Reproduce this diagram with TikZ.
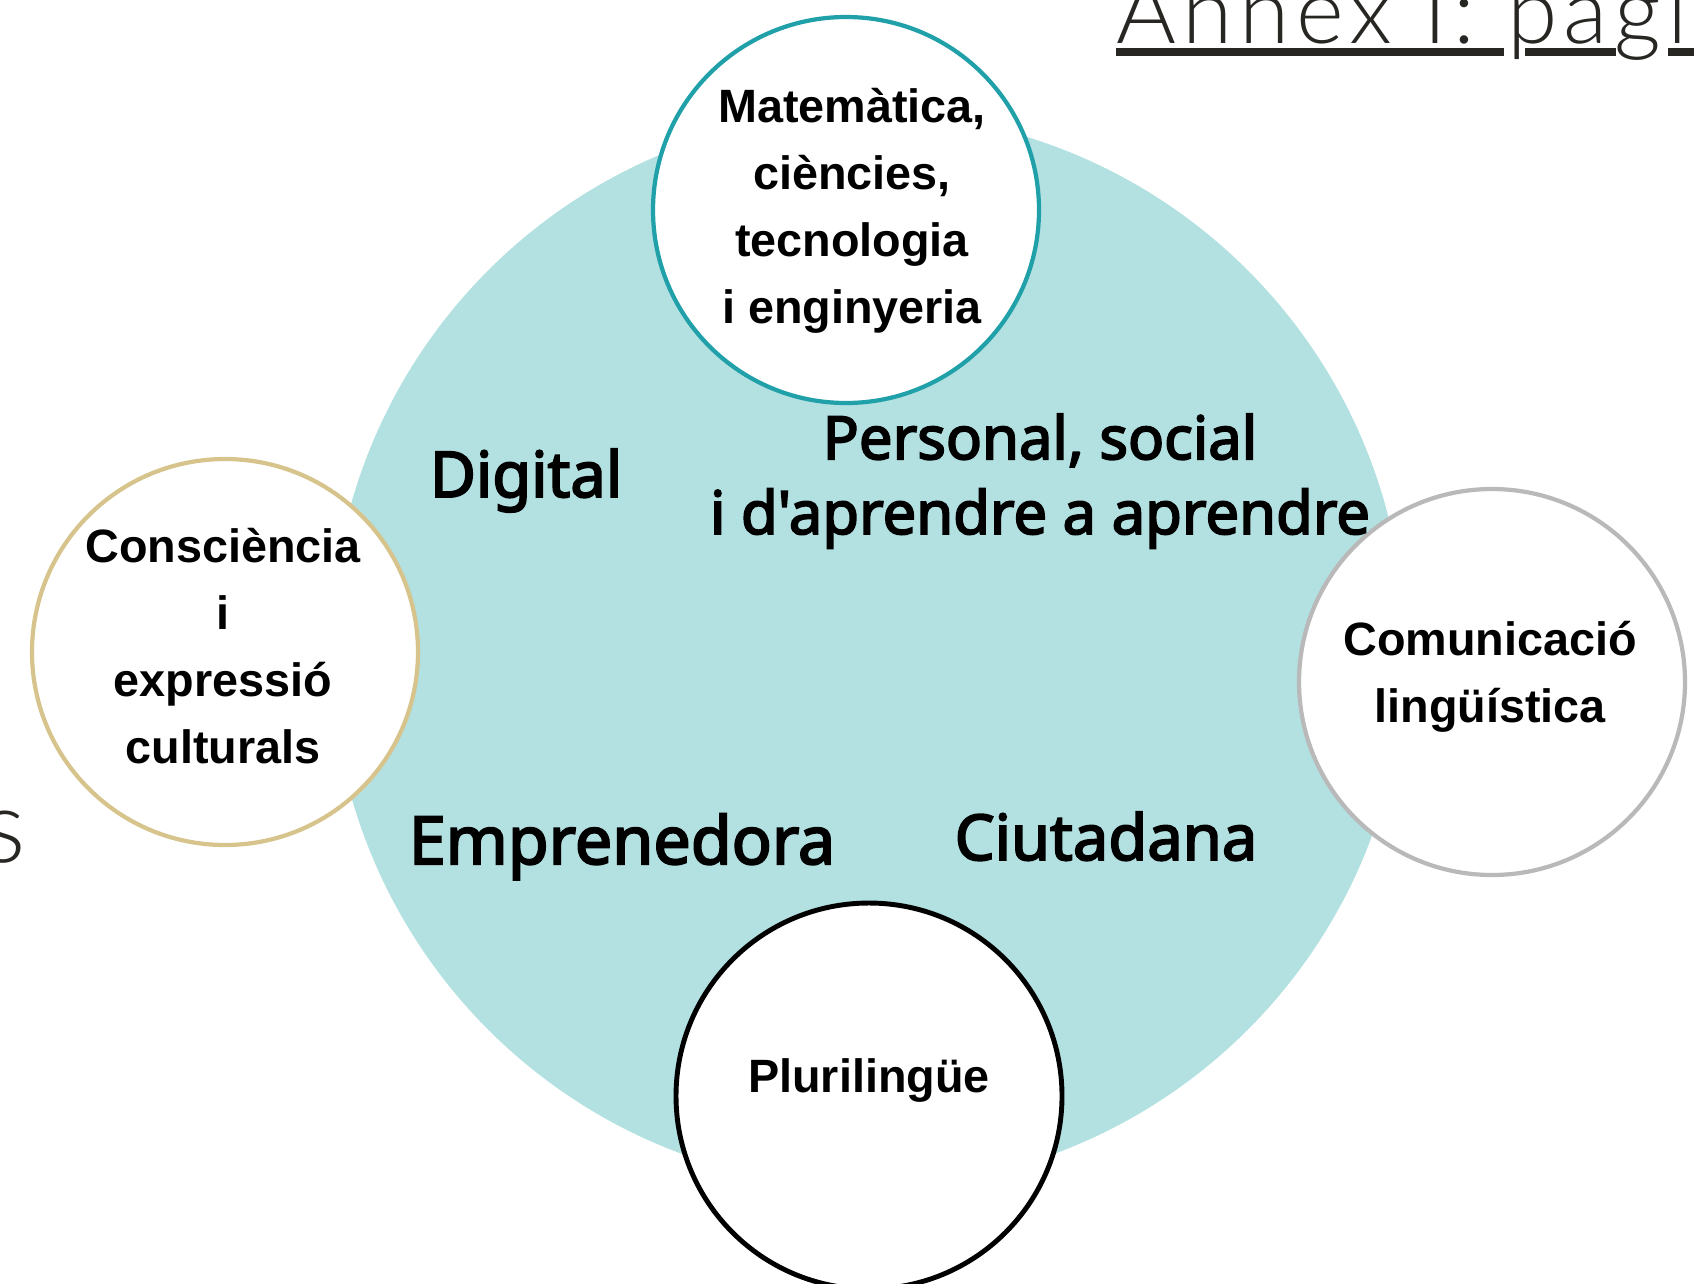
\documentclass[tikz,border=0pt]{standalone}
\usepackage{fontspec}
\usepackage{tikz}
\setmainfont{Liberation Sans}
\newfontfamily\keyfont{Noto Sans}[FakeBold=3]
\newfontfamily\annexfont{Lato}[UprightFont={* Light},LetterSpace=7]

\definecolor{coreteal}{RGB}{179,224,225}
\definecolor{mathteal}{RGB}{32,160,168}
\definecolor{artgold}{RGB}{214,196,140}
\definecolor{langgray}{RGB}{185,185,185}
\definecolor{annexink}{RGB}{40,38,35}

\begin{document}
\begin{tikzpicture}[x=0.1mm,y=-0.1mm,
  bubble/.style={circle,fill=white,line width=1.2pt,minimum size=38.6mm,inner sep=0pt},
  bubtext/.style={font=\bfseries\fontsize{13.3}{19}\selectfont,align=center,inner sep=0pt,anchor=base},
  keytext/.style={font=\keyfont\fontsize{18}{21.3}\selectfont,align=center,inner sep=0pt,anchor=base}]
\useasboundingbox (0,0) rectangle (1694,1283);
\clip (0,0) rectangle (1694,1283);

\node [circle,fill=coreteal,minimum size=107.4mm] (core) at (868,650) {};

\node [bubble,draw=mathteal] (stem) at (846,210) {};
\node [bubble,draw=artgold] (arts) at (225,652) {};
\node [bubble,draw=langgray] (lang) at (1492,682) {};
\node [bubble,draw=black,line width=1.4pt] (pluri) at (869,1096) {};

% base of a multi-line node = its last line
\node [bubtext] (stemtxt) at (852,323) {Matemàtica,\\ciències,\\tecnologia\\i enginyeria};
\node [bubtext] (artstxt) at (223,763) {Consciència\\i\\expressió\\culturals};
\node [bubtext] (langtxt) at (1490,722) {Comunicació\\lingüística};
\node [bubtext] (pluritxt) at (869,1092) {Plurilingüe};

\node [keytext] (digital) at (526,497) {Digital};
\node [keytext,font=\keyfont\fontsize{17}{21.3}\selectfont] (personal) at (1040,534) {Personal, social\\i d'aprendre a aprendre};
\node [keytext,font=\keyfont\fontsize{18.9}{21.3}\selectfont] (empren) at (622,864) {Emprenedora};
\node [keytext] (ciutad) at (1106,860) {Ciutadana};

% title cut at the page edge
\node [font=\annexfont\fontsize{26}{30}\selectfont,text=annexink,anchor=base west,inner sep=0pt] (annex) at (1116,43) {Annex I: pagi};
\coordinate (ul1) at (1116,52);
\draw [annexink,line width=2.5pt] (ul1) -- (1504,52);
\draw [annexink,line width=2.5pt] (1525,52) -- (1616,52);
\draw [annexink,line width=2.5pt] (1668,52) -- (1694,52);

\node [font=\annexfont\fontsize{29}{32}\selectfont,text=annexink,anchor=base east,inner sep=0pt] (cutword) at (27,862) {s};

\end{tikzpicture}
\end{document}
